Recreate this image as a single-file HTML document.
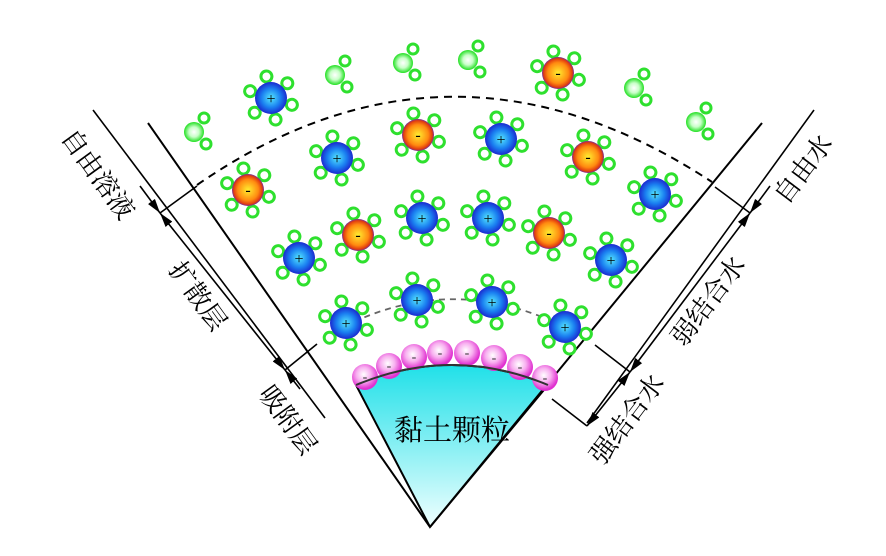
<!DOCTYPE html>
<html><head><meta charset="utf-8"><style>
html,body{margin:0;padding:0;background:#fff}
svg{display:block}
text{font-family:"Liberation Serif","Noto Serif CJK SC","Noto Sans CJK SC",serif}
</style></head><body>
<svg width="886" height="556" viewBox="0 0 886 556" xmlns="http://www.w3.org/2000/svg">
<defs>
<radialGradient id="gb" cx="0.5" cy="0.5" r="0.5">
<stop offset="0" stop-color="#55e8ff"/><stop offset="0.6" stop-color="#1a7ef0"/><stop offset="1" stop-color="#1a2ad0"/></radialGradient>
<radialGradient id="go" cx="0.5" cy="0.5" r="0.5">
<stop offset="0" stop-color="#ffee30"/><stop offset="0.65" stop-color="#ff8a10"/><stop offset="0.9" stop-color="#e03a10"/><stop offset="1" stop-color="#7030a0"/></radialGradient>
<radialGradient id="gg" cx="0.5" cy="0.5" r="0.5">
<stop offset="0" stop-color="#ffffff"/><stop offset="0.5" stop-color="#c8ffc8"/><stop offset="1" stop-color="#22e022"/></radialGradient>
<radialGradient id="gp" cx="0.45" cy="0.4" r="0.55">
<stop offset="0" stop-color="#ffffff"/><stop offset="0.5" stop-color="#f8b0f0"/><stop offset="1" stop-color="#e030d0"/></radialGradient>
<linearGradient id="gc" x1="0" y1="0" x2="0" y2="1">
<stop offset="0" stop-color="#20e0e8"/><stop offset="1" stop-color="#f0ffff"/></linearGradient>
<g id="ring">
<circle cx="0" cy="-22" r="5.5" fill="#fff" stroke="#2ee02e" stroke-width="3"/>
<circle cx="19" cy="-11" r="5.5" fill="#fff" stroke="#2ee02e" stroke-width="3"/>
<circle cx="19" cy="11" r="5.5" fill="#fff" stroke="#2ee02e" stroke-width="3"/>
<circle cx="0" cy="22" r="5.5" fill="#fff" stroke="#2ee02e" stroke-width="3"/>
<circle cx="-19" cy="11" r="5.5" fill="#fff" stroke="#2ee02e" stroke-width="3"/>
<circle cx="-19" cy="-11" r="5.5" fill="#fff" stroke="#2ee02e" stroke-width="3"/>
</g>
<g id="bion"><use href="#ring" transform="rotate(-12)"/><circle r="16" fill="url(#gb)"/></g>
<g id="oion"><use href="#ring" transform="rotate(-12)"/><circle r="16" fill="url(#go)"/></g>
<g id="w"><circle r="10" fill="url(#gg)"/><circle cx="10" cy="-14" r="5" fill="#fff" stroke="#2ee02e" stroke-width="3"/><circle cx="12" cy="12" r="5" fill="#fff" stroke="#2ee02e" stroke-width="3"/></g>
<marker id="ar" viewBox="0 0 10 10" refX="10" refY="5" markerWidth="9" markerHeight="9" orient="auto-start-reverse"><path d="M0,2 L10,5 L0,8 z" fill="#000"/></marker>
</defs>

<path d="M356,385 Q452,345 548,385 L430,527 Z" fill="url(#gc)" stroke="#000" stroke-width="2"/>
<line x1="148" y1="123" x2="430" y2="527" stroke="#000" stroke-width="2"/>
<line x1="762" y1="123" x2="430" y2="527" stroke="#000" stroke-width="2"/>

<path d="M197,185 Q450,10 712,182" fill="none" stroke="#000" stroke-width="2" stroke-dasharray="8,6"/>
<path d="M325,337 Q455,260 588,340" fill="none" stroke="#666" stroke-width="1.8" stroke-dasharray="6,5"/>

<g>
<circle cx="365" cy="377" r="13" fill="url(#gp)"/>
<circle cx="389" cy="366" r="13" fill="url(#gp)"/>
<circle cx="414" cy="357" r="13" fill="url(#gp)"/>
<circle cx="440" cy="353" r="13" fill="url(#gp)"/>
<circle cx="467" cy="353" r="13" fill="url(#gp)"/>
<circle cx="494" cy="358" r="13" fill="url(#gp)"/>
<circle cx="520" cy="367" r="13" fill="url(#gp)"/>
<circle cx="545" cy="378" r="13" fill="url(#gp)"/>
</g>
<path d="M356,385 Q452,345 548,385" fill="none" stroke="#333" stroke-width="2"/>
<g font-size="14" fill="#333" text-anchor="middle" font-family="Liberation Sans,sans-serif">
<text x="365" y="381">-</text><text x="389" y="370">-</text><text x="414" y="361">-</text><text x="440" y="357">-</text><text x="467" y="357">-</text><text x="494" y="362">-</text><text x="520" y="371">-</text><text x="545" y="382">-</text>
</g>

<use href="#w" x="194" y="132"/>
<use href="#w" x="335" y="75"/>
<use href="#w" x="403" y="63"/>
<use href="#w" x="468" y="60"/>
<use href="#w" x="634" y="88"/>
<use href="#w" x="696" y="122"/>

<use href="#bion" x="271" y="98"/>
<use href="#bion" x="337" y="158"/>
<use href="#bion" x="501" y="139"/>
<use href="#bion" x="655" y="194"/>
<use href="#bion" x="422" y="218"/>
<use href="#bion" x="488" y="218"/>
<use href="#bion" x="299" y="258"/>
<use href="#bion" x="611" y="260"/>
<use href="#bion" x="346" y="323"/>
<use href="#bion" x="417" y="300"/>
<use href="#bion" x="492" y="302"/>
<use href="#bion" x="565" y="327"/>
<use href="#oion" x="558" y="73"/>
<use href="#oion" x="418" y="135"/>
<use href="#oion" x="248" y="190"/>
<use href="#oion" x="588" y="157"/>
<use href="#oion" x="358" y="235"/>
<use href="#oion" x="549" y="233"/>

<g font-size="16" fill="#000" text-anchor="middle" font-family="Liberation Sans,sans-serif">
<text x="271" y="104">+</text><text x="337" y="164">+</text><text x="501" y="145">+</text><text x="655" y="200">+</text>
<text x="422" y="224">+</text><text x="488" y="224">+</text><text x="299" y="264">+</text><text x="611" y="266">+</text>
<text x="346" y="329">+</text><text x="417" y="306">+</text><text x="492" y="308">+</text><text x="565" y="333">+</text>
<text x="558" y="78">-</text><text x="418" y="140">-</text><text x="248" y="195">-</text><text x="588" y="162">-</text><text x="358" y="240">-</text><text x="549" y="238">-</text>
</g>

<g stroke="#000" stroke-width="1.6" fill="none">
<line x1="93" y1="110" x2="325" y2="418"/>
<line x1="197" y1="186" x2="160" y2="213"/>
<line x1="317" y1="344" x2="285" y2="370"/>
<line x1="140" y1="186" x2="160" y2="213" marker-end="url(#ar)"/>
<line x1="160" y1="213" x2="285" y2="370" marker-start="url(#ar)" marker-end="url(#ar)"/>
<line x1="285" y1="370" x2="300" y2="389" marker-start="url(#ar)"/>
</g>
<g stroke="#000" stroke-width="1.6" fill="none">
<line x1="814" y1="110" x2="587" y2="423"/>
<line x1="715" y1="187" x2="750" y2="213"/>
<line x1="595" y1="345" x2="630" y2="372"/>
<line x1="552" y1="399" x2="587" y2="426"/>
<line x1="770" y1="186" x2="750" y2="213" marker-end="url(#ar)"/>
<line x1="750" y1="213" x2="630" y2="372" marker-start="url(#ar)" marker-end="url(#ar)"/>
<line x1="630" y1="372" x2="587" y2="426" marker-start="url(#ar)" marker-end="url(#ar)"/>
</g>

<g font-size="26" fill="#000" text-anchor="middle">
<text transform="translate(98,174) rotate(54)" dy="9">自由溶液</text>
<text transform="translate(198,296) rotate(54)" dy="9">扩散层</text>
<text transform="translate(288,420) rotate(54)" dy="9">吸附层</text>
<text transform="translate(803,169) rotate(-53)" dy="9">自由水</text>
<text transform="translate(708,301) rotate(-53)" dy="9">弱结合水</text>
<text transform="translate(627,419) rotate(-53)" dy="9">强结合水</text>
</g>
<text x="452" y="440" font-size="29" text-anchor="middle" fill="#000">黏土颗粒</text>
</svg>
</body></html>
